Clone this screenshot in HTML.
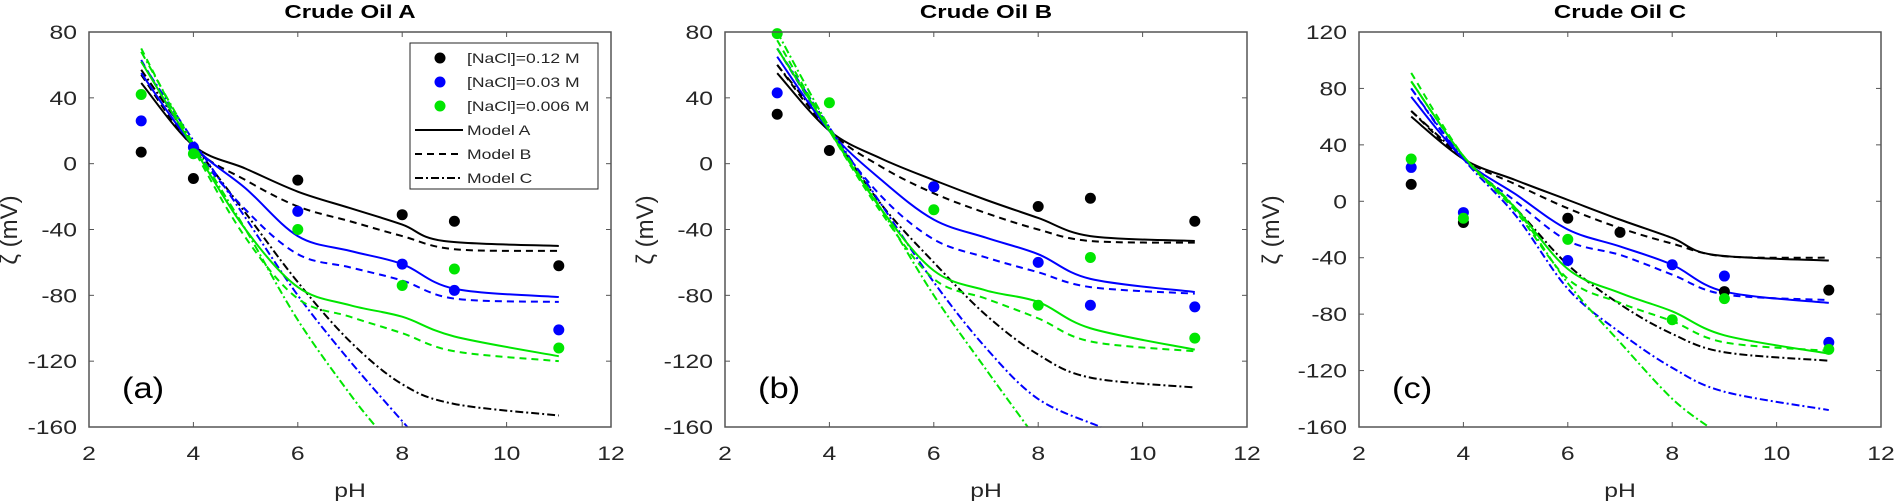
<!DOCTYPE html>
<html><head><meta charset="utf-8"><style>
html,body{margin:0;padding:0;background:#fff;}
svg{display:block;font-family:"Liberation Sans",sans-serif;}
</style></head><body>
<svg id="s" width="1895" height="504" xmlns="http://www.w3.org/2000/svg"></svg>
<script>
const S=document.getElementById('s');let h='';
function t(x,y,s,size,anchor,extra,sx){sx=sx||1.3;return `<text transform="translate(${x},${y}) scale(${sx},1)" font-size="${size}" text-anchor="${anchor||'start'}" ${extra||''}>${s}</text>`;}
const panels=[
{L:89,title:'Crude Oil A',lab:'(a)',ymax:80,ymin:-160,step:40,
sc:{k:[[3,7],[4,-9],[6,-10],[8,-31],[9,-35],[11,-62]],b:[[3,26],[4,10],[6,-29],[8,-61],[9,-77],[11,-101]],g:[[3,42],[4,6],[6,-40],[8,-74],[9,-64],[11,-112]]},
cv:{k:[[[3,49],[4,11],[5,-3],[6,-17],[7,-27],[8,-37],[8.8,-47],[11,-50]],[[3,54],[4,10],[5,-10],[6,-26],[7,-35],[8,-44],[9,-52],[11,-53]],[[3,57],[4,12],[5,-30],[6,-72],[7,-108],[8,-134],[9,-146],[11,-153]]],
b:[[[3,55],[4,11],[5,-15],[6,-44],[7,-53],[8,-61],[9,-76],[11,-81]],[[3,63],[4,10],[5,-28],[6,-55],[7,-63],[8,-71],[9,-82],[11,-84]],[[3,62],[4,14],[5,-33],[6,-80],[7,-120],[8.1,-160]]],
g:[[[3,62],[4,10],[5,-40],[6,-75],[7,-86],[8,-93],[9,-105],[11,-117]],[[3,70],[4,9],[5,-45],[6,-82],[7,-93],[8,-103],[9,-114],[11,-120]],[[3,68],[4,12],[5,-40],[6,-95],[7,-140],[7.5,-160]]]}},
{L:725,title:'Crude Oil B',lab:'(b)',ymax:80,ymin:-160,step:40,
sc:{k:[[3,30],[4,8],[6,-14],[8,-26],[9,-21],[11,-35]],b:[[3,43],[6,-14],[8,-60],[9,-86],[11,-87]],g:[[3,79],[4,37],[6,-28],[8,-86],[9,-57],[11,-106]]},
cv:{k:[[[3,55],[4,20],[5,3],[6,-10],[7,-22],[8,-33],[9,-44],[11,-47]],[[3,60],[4,20],[5,-2],[6,-18],[7,-30],[8,-40],[9,-47],[11,-48]],[[3,60],[4,20],[5,-25],[6,-60],[7,-92],[8,-116],[9,-130],[11,-136]]],
b:[[[3,65],[4,20],[5,-10],[6,-34],[7,-45],[8,-55],[9,-70],[11,-78]],[[3,70],[4,20],[5,-20],[6,-46],[7,-57],[8,-66],[9,-75],[11,-79]],[[3,70],[4,22],[5,-25],[6,-72],[7,-112],[8,-143],[9.2,-160]]],
g:[[[3,70],[4,20],[5,-28],[6,-65],[7,-77],[8,-84],[9,-100],[11,-113]],[[3,75],[4,20],[5,-30],[6,-70],[7,-82],[8,-94],[9,-108],[11,-114]],[[3,80],[4,22],[5,-28],[6,-80],[7,-125],[7.8,-160]]]}},
{L:1359,title:'Crude Oil C',lab:'(c)',ymax:120,ymin:-160,step:40,
sc:{k:[[3,12],[4,-15],[6,-12],[7,-22],[9,-64],[11,-63]],b:[[3,24],[4,-8],[6,-42],[8,-45],[9,-53],[11,-100]],g:[[3,30],[4,-12],[6,-27],[8,-84],[9,-69],[11,-105]]},
cv:{k:[[[3,60],[4,30],[5,15],[6,1],[7,-13],[8,-26],[8.8,-38],[11,-42]],[[3,64],[4,30],[5,12],[6,-5],[7,-19],[8,-30],[9,-39],[11,-40]],[[3,64],[4,30],[5,-5],[6,-45],[7,-73],[8,-94],[9,-107],[11,-113]]],
b:[[[3,74],[4,30],[5,5],[6,-20],[7,-32],[8,-45],[9,-64],[11,-72]],[[3,80],[4,30],[5,0],[6,-28],[7,-38],[8,-52],[9,-66],[11,-70]],[[3,80],[4,30],[5,-10],[6,-62],[7,-93],[8,-118],[9,-135],[11,-148]]],
g:[[[3,85],[4,32],[5,-5],[6,-48],[7,-65],[8,-78],[9,-95],[11,-108]],[[3,91],[4,32],[5,-7],[6,-55],[7,-72],[8,-85],[9,-100],[11,-106]],[[3,85],[4,32],[5,-5],[6,-58],[7,-100],[8,-140],[8.7,-160]]]}}
];
const col={k:'#000',b:'#0000ff',g:'#00e600'};
const dash=['','7,5','8,3,2,3'];
const T=32,B=427,W=522;
panels.forEach(p=>{
 const X=v=>p.L+(v-2)*W/10, Y=v=>T+(p.ymax-v)*(B-T)/(p.ymax-p.ymin);
 h+=t(p.L+W/2,18,p.title,18.5,'middle','font-weight="bold"');
 ['k','b','g'].forEach(c=>p.cv[c].forEach((pts,i)=>{
   const P=pts.map(q=>[X(q[0]),Y(q[1])]);let d=`M${P[0][0]},${P[0][1]}`;
   for(let j=0;j<P.length-1;j++){const p0=P[Math.max(j-1,0)],p1=P[j],p2=P[j+1],p3=P[Math.min(j+2,P.length-1)];
    d+=`C${p1[0]+(p2[0]-p0[0])/6},${p1[1]+(p2[1]-p0[1])/6} ${p2[0]-(p3[0]-p1[0])/6},${p2[1]-(p3[1]-p1[1])/6} ${p2[0]},${p2[1]}`;}
   h+=`<path d="${d}" fill="none" stroke="${col[c]}" stroke-width="2" ${dash[i]?`stroke-dasharray="${dash[i]}"`:''}/>`;
 }));
 ['k','b','g'].forEach(c=>p.sc[c].forEach(q=>{h+=`<circle cx="${X(q[0])}" cy="${Y(q[1])}" r="5.5" fill="${col[c]}"/>`;}));
 h+=`<rect x="${p.L}" y="${T}" width="${W}" height="${B-T}" fill="none" stroke="#555" stroke-width="1.5"/>`;
 for(let v=2;v<=12;v+=2){const x=X(v);h+=`<line x1="${x}" y1="${B}" x2="${x}" y2="${B-5}" stroke="#555"/><line x1="${x}" y1="${T}" x2="${x}" y2="${T+5}" stroke="#555"/>`+t(x,460,v,19,'middle','fill="#262626"');}
 for(let v=p.ymin;v<=p.ymax;v+=p.step){const y=Y(v);h+=`<line x1="${p.L}" y1="${y}" x2="${p.L+5}" y2="${y}" stroke="#555"/><line x1="${p.L+W}" y1="${y}" x2="${p.L+W-5}" y2="${y}" stroke="#555"/>`+t(p.L-12,y+7,v,19,'end','fill="#262626"');}
 h+=t(p.L+W/2,497,'pH',19,'middle','fill="#262626"');
 const yl=p.L-(p.ymax==120?80:72);
 h+=`<text transform="translate(${yl},230) rotate(-90)" text-anchor="middle" font-size="24" fill="#262626">ζ (mV)</text>`;
 h+=t(p.L+33,398,p.lab,30,'start','',1.15);
});
h+=`<rect x="410" y="43" width="188" height="146" fill="#fff" stroke="#262626"/>`;
const lg=[['k','[NaCl]=0.12 M'],['b','[NaCl]=0.03 M'],['g','[NaCl]=0.006 M']];
lg.forEach((e,i)=>{const y=58+i*24;h+=`<circle cx="440" cy="${y}" r="5.5" fill="${col[e[0]]}"/>`+t(467,y+5,e[1],13.5,'start','fill="#262626"');});
['Model A','Model B','Model C'].forEach((s,i)=>{const y=130+i*24;h+=`<line x1="415" y1="${y}" x2="463" y2="${y}" stroke="#000" stroke-width="2" ${dash[i]?`stroke-dasharray="${dash[i]}"`:''}/>`+t(467,y+5,s,13.5,'start','fill="#262626"');});
S.innerHTML=h;
</script>
</body></html>
